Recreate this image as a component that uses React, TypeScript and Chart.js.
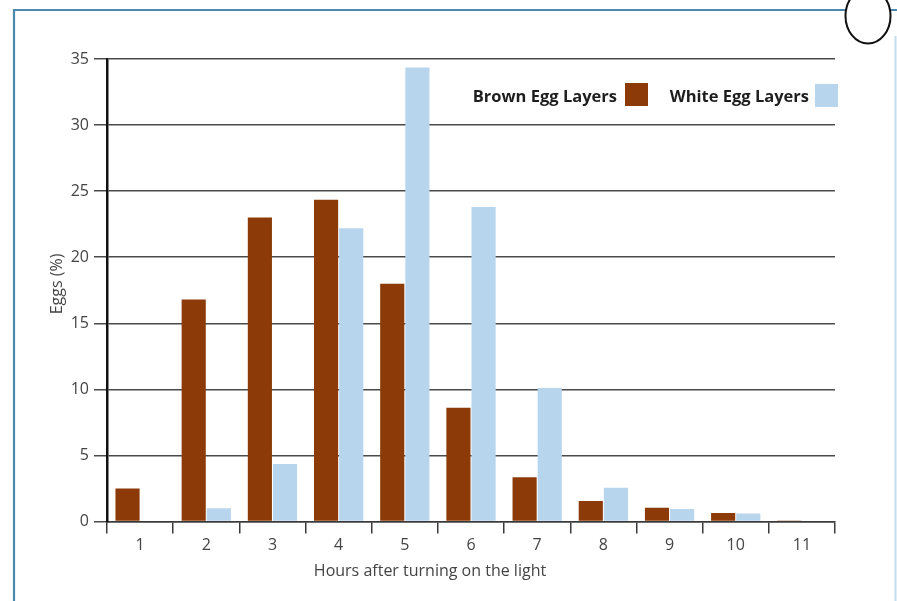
import React, { useEffect, useRef } from "react";
import { Chart, registerables } from "chart.js";

Chart.register(...registerables);

const hours = ["1", "2", "3", "4", "5", "6", "7", "8", "9", "10", "11"];
const brownLayers = [2.5, 16.8, 23.0, 24.35, 18.0, 8.6, 3.35, 1.55, 1.05, 0.65, 0.08];
const whiteLayers = [0.05, 1.0, 4.35, 22.2, 34.35, 23.8, 10.1, 2.55, 0.95, 0.6, 0];
const seriesNames = ["Brown Egg Layers", "White Egg Layers"];
const yTitle = "Eggs (%)";
const xTitle = "Hours after turning on the light";

const BROWN = "#8c3a08";
const BLUE = "#b8d5ee";
const FONT = "'Open Sans', 'Noto Sans', sans-serif";

const framePlugin = {
  id: "frame",
  beforeDraw(chart: any) {
    const ctx = chart.ctx;
    ctx.save();
    ctx.fillStyle = "#ffffff";
    ctx.fillRect(0, 0, chart.width, chart.height);
    // blue frame
    ctx.strokeStyle = "#4a88ad";
    ctx.lineWidth = 2.2;
    ctx.beginPath();
    ctx.moveTo(14, 601);
    ctx.lineTo(14, 10);
    ctx.lineTo(897, 10);
    ctx.stroke();
    // right light line
    ctx.strokeStyle = "#c3dcee";
    ctx.lineWidth = 2;
    ctx.beginPath();
    ctx.moveTo(895.5, 36);
    ctx.lineTo(895.5, 601);
    ctx.stroke();
    // egg
    ctx.beginPath();
    ctx.ellipse(868, 16, 22.5, 27.5, 0, 0, Math.PI * 2);
    ctx.fillStyle = "#ffffff";
    ctx.fill();
    ctx.strokeStyle = "#111111";
    ctx.lineWidth = 2;
    ctx.stroke();
    ctx.restore();
  },
  afterDraw(chart: any) {
    const ctx = chart.ctx;
    ctx.save();
    // axis titles
    ctx.fillStyle = "#444444";
    ctx.font = `16px ${FONT}`;
    ctx.textAlign = "center";
    ctx.textBaseline = "middle";
    ctx.fillText(xTitle, 430, 571);
    ctx.save();
    ctx.translate(57, 284);
    ctx.rotate(-Math.PI / 2);
    ctx.fillText(yTitle, 0, 0);
    ctx.restore();
    // legend
    const colors = [BROWN, BLUE];
    const textRight = [617, 809];
    const boxLeft = [625, 815];
    const boxTop = [83, 84];
    ctx.font = `bold 16.5px ${FONT}`;
    ctx.textAlign = "right";
    ctx.textBaseline = "alphabetic";
    for (let i = 0; i < 2; i++) {
      ctx.fillStyle = "#1e1e1e";
      ctx.fillText(seriesNames[i], textRight[i], 102);
      ctx.fillStyle = colors[i];
      ctx.fillRect(boxLeft[i], boxTop[i], 23, 23);
    }
    ctx.restore();
  },
};

export default function App() {
  const ref = useRef<HTMLCanvasElement | null>(null);
  useEffect(() => {
    document.body.style.margin = "0";
    const canvas = ref.current;
    if (!canvas) return;
    const chart = new Chart(canvas, {
      type: "bar",
      data: {
        labels: hours,
        datasets: [
          {
            label: seriesNames[0],
            data: brownLayers,
            backgroundColor: BROWN,
            borderWidth: 0,
            categoryPercentage: 0.76,
            barPercentage: 0.96,
          },
          {
            label: seriesNames[1],
            data: whiteLayers,
            backgroundColor: BLUE,
            borderWidth: 0,
            categoryPercentage: 0.76,
            barPercentage: 0.96,
          },
        ],
      },
      options: {
        responsive: false,
        animation: false,
        devicePixelRatio: 1,
        layout: { padding: { top: 59, right: 62, left: 0, bottom: 0 } },
        plugins: {
          legend: { display: false },
          tooltip: { enabled: false },
          title: { display: false },
        },
        scales: {
          x: {
            offset: true,
            grid: {
              display: true,
              offset: true,
              drawOnChartArea: false,
              drawTicks: true,
              tickLength: 12,
              color: "#3a3a3a",
              lineWidth: 1.5,
            },
            border: { display: true, color: "#3a3a3a", width: 1.5 },
            ticks: {
              color: "#444444",
              font: { family: FONT, size: 16 },
              padding: 2,
              maxRotation: 0,
            },
            afterFit: (s: any) => {
              s.height = 79.5;
            },
          },
          y: {
            min: 0,
            max: 35,
            grid: {
              color: "#4a4a4a",
              lineWidth: 1.5,
              drawTicks: true,
              tickLength: 13,
            },
            border: { display: true, color: "#111111", width: 2.5 },
            ticks: {
              stepSize: 5,
              color: "#444444",
              font: { family: FONT, size: 16 },
              padding: 5,
            },
            afterFit: (s: any) => {
              s.width = 107;
            },
          },
        },
      },
      plugins: [framePlugin],
    });
    return () => chart.destroy();
  }, []);
  return (
    <div style={{ width: 897, height: 601 }}>
      <canvas ref={ref} width={897} height={601} style={{ display: "block" }} />
    </div>
  );
}
